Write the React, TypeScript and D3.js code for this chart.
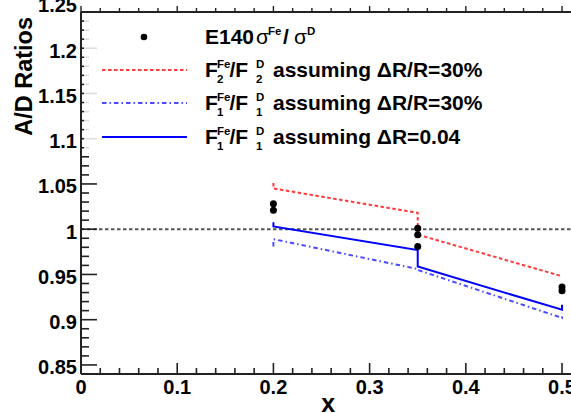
import React from "react";
import * as d3 from "d3";

const W = 571;
const H = 413;

// E140 sigma ratio points
const e140X = [0.2, 0.2, 0.35, 0.35, 0.35, 0.5, 0.5];
const e140Y = [1.028, 1.021, 1.001, 0.994, 0.981, 0.936, 0.932];

// F2 ratio assuming dR/R = 30%
const f2X = [0.2, 0.2, 0.35, 0.35, 0.5];
const f2Y = [1.051, 1.045, 1.018, 0.994, 0.948];

// F1 ratio assuming dR/R = 30%
const f1aX = [0.2, 0.2, 0.35, 0.35, 0.5, 0.5];
const f1aY = [0.981, 0.989, 0.956, 0.955, 0.902, 0.907];

// F1 ratio assuming dR = 0.04
const f1bX = [0.2, 0.2, 0.35, 0.35, 0.5, 0.5];
const f1bY = [1.0077, 1.003, 0.977, 0.9587, 0.911, 0.9165];

const xTicks = [0, 0.1, 0.2, 0.3, 0.4, 0.5];
const xTickLabels = ["0", "0.1", "0.2", "0.3", "0.4", "0.5"];
const yTicks = [0.85, 0.9, 0.95, 1.0, 1.05, 1.1, 1.15, 1.2, 1.25];
const yTickLabels = ["0.85", "0.9", "0.95", "1", "1.05", "1.1", "1.15", "1.2", "1.25"];

const FONT = "'Liberation Sans', Arial, Helvetica, sans-serif";

export default function App() {
  const x = d3.scaleLinear().domain([0, 0.514]).range([81, 575.5]);
  const y = d3.scaleLinear().domain([0.84, 1.24]).range([374, 12]);
  const [x0, x1] = x.range();
  const [yb, yt] = y.range();

  const line = d3
    .line<[number, number]>()
    .x((d) => x(d[0]))
    .y((d) => y(d[1]));

  const zip = (a: number[], b: number[]) => a.map((v, i) => [v, b[i]] as [number, number]);

  const yMinor = d3.range(0, 41).map((i) => +(0.84 + i * 0.01).toFixed(2));
  const xMinor = d3.range(0, 26).map((i) => +(i * 0.02).toFixed(2));

  const red = "#ff3b3b";
  const blueDD = "#4a4aff";
  const blue = "#0000ff";

  const rowY = [37, 70, 103, 137];

  const fMain = 21;
  const fSmall = 11.5;

  const fRow = (cy: number, sub: string, tail: string) => {
    const b = cy + 7;
    return (
      <g fontFamily={FONT} fontWeight="bold" fill="#000">
        <text x={205} y={b} fontSize={fMain}>F</text>
        <text x={217} y={b - 9} fontSize={fSmall}>Fe</text>
        <text x={217} y={b + 6} fontSize={fSmall}>{sub}</text>
        <text x={229.5} y={b} fontSize={fMain}>/F</text>
        <text x={256} y={b - 9} fontSize={fSmall}>D</text>
        <text x={256} y={b + 6} fontSize={fSmall}>{sub}</text>
        <text x={273} y={b} fontSize={fMain}>{tail}</text>
      </g>
    );
  };

  return (
    <svg
      width={W}
      height={H}
      style={{ position: "absolute", left: 0, top: 0, background: "#fff" }}
    >
      <rect x={0} y={0} width={W} height={H} fill="#fff" />

      {/* y=1 reference */}
      <line
        x1={x0}
        x2={x1}
        y1={y(1)}
        y2={y(1)}
        stroke="#555"
        strokeWidth={2}
        strokeDasharray="3.5,2.5"
      />

      {/* left axis ticks */}
      {yMinor.map((v, i) => {
        const major = Math.round(v * 100) % 5 === 0;
        return (
          <line
            key={"ym" + i}
            x1={x0}
            x2={x0 + (major ? 16 : 8)}
            y1={y(v)}
            y2={y(v)}
            stroke="#222"
            strokeWidth={1.6}
          />
        );
      })}

      {/* bottom axis ticks */}
      {xMinor.map((v, i) => {
        const major = i % 5 === 0;
        return (
          <line
            key={"xm" + i}
            x1={x(v)}
            x2={x(v)}
            y1={yb}
            y2={yb - (major ? 11 : 6)}
            stroke="#222"
            strokeWidth={1.6}
          />
        );
      })}
      {/* top axis ticks */}
      {xMinor.map((v, i) => {
        const major = i % 5 === 0;
        return (
          <line
            key={"xt" + i}
            x1={x(v)}
            x2={x(v)}
            y1={yt}
            y2={yt - (major ? 6 : 4)}
            stroke="#222"
            strokeWidth={1.4}
          />
        );
      })}

      {/* frame */}
      <line x1={x0} x2={x0} y1={yt} y2={yb} stroke="#222" strokeWidth={2} />
      <line x1={x0} x2={x1} y1={yb} y2={yb} stroke="#222" strokeWidth={2} />
      <line x1={x0} x2={x1} y1={yt} y2={yt} stroke="#222" strokeWidth={2} />

      {/* model lines */}
      <path d={line(zip(f2X, f2Y)) || ""} fill="none" stroke={red} strokeWidth={2} strokeDasharray="3.5,2.5" />
      <path d={line(zip(f1aX, f1aY)) || ""} fill="none" stroke={blueDD} strokeWidth={2} strokeDasharray="4.5,3,1.5,3" />
      <path d={line(zip(f1bX, f1bY)) || ""} fill="none" stroke={blue} strokeWidth={2} />

      {/* data points */}
      {e140X.map((v, i) => (
        <circle key={"p" + i} cx={x(v)} cy={y(e140Y[i])} r={3.5} fill="#000" />
      ))}

      {/* legend */}
      <rect x={84} y={17} width={420} height={135} fill="#fff" fillOpacity={0.85} />
      <circle cx={144} cy={rowY[0]} r={3.3} fill="#000" />
      <line x1={102} x2={187} y1={rowY[1]} y2={rowY[1]} stroke={red} strokeWidth={2} strokeDasharray="3.5,2.5" />
      <line x1={102} x2={187} y1={rowY[2]} y2={rowY[2]} stroke={blueDD} strokeWidth={2} strokeDasharray="4.5,3,1.5,3" />
      <line x1={102} x2={187} y1={rowY[3]} y2={rowY[3]} stroke={blue} strokeWidth={2} />

      <g fontFamily={FONT} fill="#000">
        <text x={205} y={rowY[0] + 7} fontSize={fMain} fontWeight="bold">E140</text>
        <text x={256} y={rowY[0] + 7} fontSize={21}>σ</text>
        <text x={268} y={rowY[0] - 2} fontSize={fSmall} fontWeight="bold">Fe</text>
        <text x={283} y={rowY[0] + 7} fontSize={fMain} fontWeight="bold">/</text>
        <text x={294} y={rowY[0] + 7} fontSize={21}>σ</text>
        <text x={307} y={rowY[0] - 2} fontSize={fSmall} fontWeight="bold">D</text>
      </g>
      {fRow(rowY[1], "2", "assuming ΔR/R=30%")}
      {fRow(rowY[2], "1", "assuming ΔR/R=30%")}
      {fRow(rowY[3], "1", "assuming ΔR=0.04")}

      {/* tick labels */}
      <g fontFamily={FONT} fontWeight="bold" fontSize={20} fill="#000">
        {yTicks.map((v, i) => (
          <text key={"yl" + i} x={77} y={y(v) + 2.5} textAnchor="end" dominantBaseline="central">
            {yTickLabels[i]}
          </text>
        ))}
        {xTicks.map((v, i) => (
          <text key={"xl" + i} x={x(v)} y={387} textAnchor="middle" dominantBaseline="central">
            {xTickLabels[i]}
          </text>
        ))}
      </g>

      {/* axis titles */}
      <text
        x={0}
        y={0}
        transform={`translate(32,17) rotate(-90)`}
        textAnchor="end"
        fontFamily={FONT}
        fontWeight="bold"
        fontSize={23.5}
        fill="#000"
      >
        A/D Ratios
      </text>
      <text
        x={(x0 + x1) / 2}
        y={411.5}
        textAnchor="middle"
        fontFamily={FONT}
        fontWeight="bold"
        fontSize={25}
        fill="#000"
      >
        x
      </text>
    </svg>
  );
}
